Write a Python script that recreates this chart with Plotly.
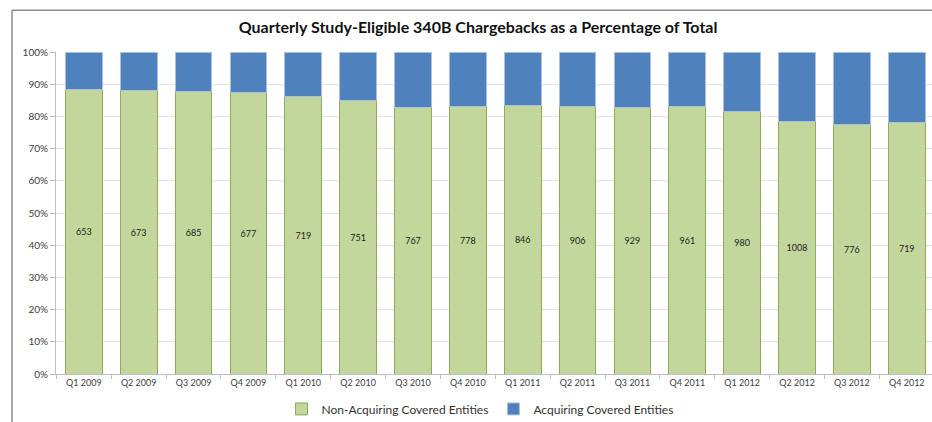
import plotly.graph_objects as go

quarters = ['Q1 2009', 'Q2 2009', 'Q3 2009', 'Q4 2009',
            'Q1 2010', 'Q2 2010', 'Q3 2010', 'Q4 2010',
            'Q1 2011', 'Q2 2011', 'Q3 2011', 'Q4 2011',
            'Q1 2012', 'Q2 2012', 'Q3 2012', 'Q4 2012']
non_acquiring = [88.3, 87.9, 87.6, 87.3, 86.3, 84.9, 82.9, 83.1,
                 83.3, 83.1, 82.8, 83.1, 81.6, 78.4, 77.5, 78.1]
acquiring = [11.7, 12.1, 12.4, 12.7, 13.7, 15.1, 17.1, 16.9,
             16.7, 16.9, 17.2, 16.9, 18.4, 21.6, 22.5, 21.9]
counts = [653, 673, 685, 677, 719, 751, 767, 778,
          846, 906, 929, 961, 980, 1008, 776, 719]

fig = go.Figure()
fig.add_trace(go.Bar(x=quarters, y=non_acquiring, name='Non-Acquiring Covered Entities',
                     marker=dict(color='#C3D69B', line=dict(color='#8EAA5A', width=1)),
                     text=[str(c) for c in counts], textposition='inside',
                     insidetextanchor='middle', textangle=0,
                     textfont=dict(size=9, color='#222222', family='Lato'),
                     hoverinfo='x+y'))
fig.add_trace(go.Bar(x=quarters, y=acquiring, name='Acquiring Covered Entities',
                     marker=dict(color='#4F81BD', line=dict(color='#A9C0DF', width=1)),
                     hoverinfo='x+y'))

# chart frame (left and top edges visible in the crop)
fig.add_shape(type='line', xref='paper', yref='paper', x0=-0.0502, x1=1.0, y0=1.13, y1=1.13,
              line=dict(color='#8C8C8C', width=1.5), layer='above')
fig.add_shape(type='line', xref='paper', yref='paper', x0=-0.0502, x1=-0.0502, y0=1.13, y1=-0.16,
              line=dict(color='#8C8C8C', width=1.5), layer='above')

fig.update_layout(
    width=932, height=422,
    barmode='stack', bargap=0.33,
    margin=dict(l=56, r=0, t=52, b=48, autoexpand=False),
    paper_bgcolor='white', plot_bgcolor='white',
    font=dict(family='Lato', color='#404040'),
    title=dict(text='<b>Quarterly Study-Eligible 340B Chargebacks as a Percentage of Total</b>',
               x=0.513, xref='container', xanchor='center',
               y=0.936, yref='container', yanchor='middle',
               font=dict(size=16, color='#111111', family='Lato')),
    legend=dict(orientation='h', x=0.515, xref='container', xanchor='center',
                y=0.031, yref='container', yanchor='middle',
                font=dict(size=12, color='#333333'), traceorder='normal'),
    showlegend=True,
)
fig.update_xaxes(range=[-0.507, 15.46], showline=True, linecolor='#BFBFBF', linewidth=1,
                 ticks='outside', ticklen=4, tickcolor='#BFBFBF', tickson='boundaries',
                 tickfont=dict(size=9, color='#404040'), showgrid=False, automargin=False)
fig.update_yaxes(range=[0, 100], dtick=10, ticksuffix='%', showline=True, linecolor='#BFBFBF',
                 linewidth=1, ticks='outside', ticklen=5, tickcolor='#BFBFBF',
                 gridcolor='#E3E3E3', gridwidth=1, zeroline=False, automargin=False,
                 tickfont=dict(size=10, color='#404040'))

# page body has a default 8px margin; drop it so the figure fills the window
fig.write_html("out.html", config={'displayModeBar': False},
               post_script="document.body.style.margin='0';")
